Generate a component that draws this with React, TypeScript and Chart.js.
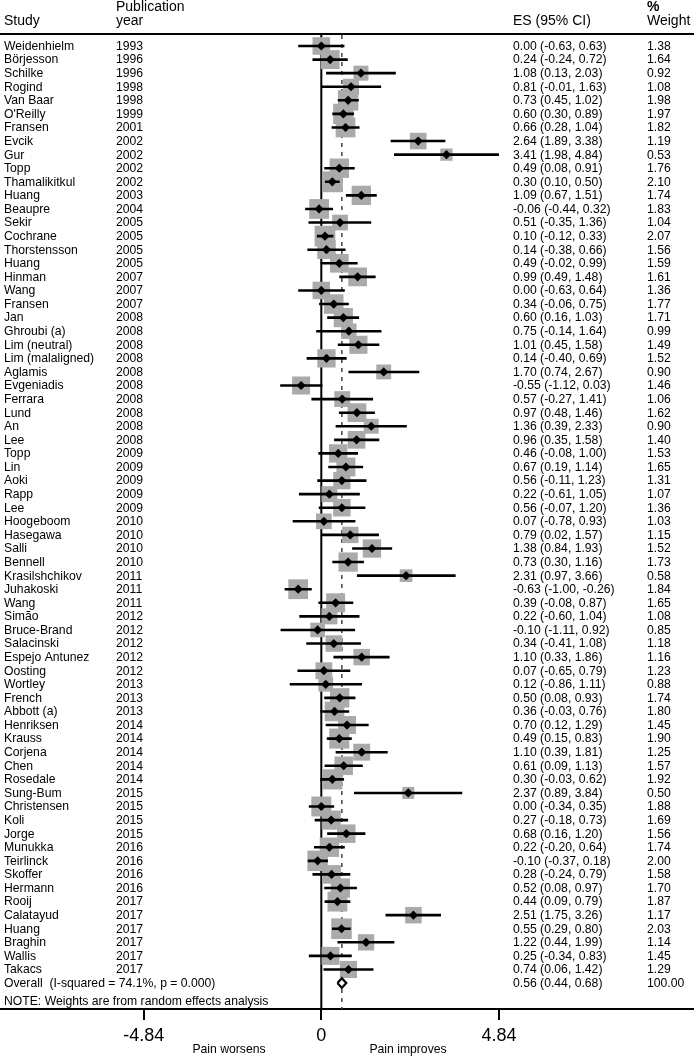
import React, { useEffect, useRef } from "react";
import { Chart, registerables } from "chart.js";

Chart.register(...registerables);

const studies = [
  "Weidenhielm", "Börjesson", "Schilke", "Rogind", "Van Baar", "O'Reilly", "Fransen", "Evcik", "Gur", "Topp",
  "Thamalikitkul", "Huang", "Beaupre", "Sekir", "Cochrane", "Thorstensson", "Huang", "Hinman", "Wang", "Fransen",
  "Jan", "Ghroubi (a)", "Lim (neutral)", "Lim (malaligned)", "Aglamis", "Evgeniadis", "Ferrara", "Lund", "An", "Lee",
  "Topp", "Lin", "Aoki", "Rapp", "Lee", "Hoogeboom", "Hasegawa", "Salli", "Bennell", "Krasilshchikov",
  "Juhakoski", "Wang", "Simão", "Bruce-Brand", "Salacinski", "Espejo Antunez", "Oosting", "Wortley", "French", "Abbott (a)",
  "Henriksen", "Krauss", "Corjena", "Chen", "Rosedale", "Sung-Bum", "Christensen", "Koli", "Jorge", "Munukka",
  "Teirlinck", "Skoffer", "Hermann", "Rooij", "Calatayud", "Huang", "Braghin", "Wallis", "Takacs",
];
const years = [
  1993, 1996, 1996, 1998, 1998, 1999, 2001, 2002, 2002, 2002,
  2002, 2003, 2004, 2005, 2005, 2005, 2005, 2007, 2007, 2007,
  2008, 2008, 2008, 2008, 2008, 2008, 2008, 2008, 2008, 2008,
  2009, 2009, 2009, 2009, 2009, 2010, 2010, 2010, 2010, 2011,
  2011, 2011, 2012, 2012, 2012, 2012, 2012, 2013, 2013, 2013,
  2014, 2014, 2014, 2014, 2014, 2015, 2015, 2015, 2015, 2016,
  2016, 2016, 2016, 2017, 2017, 2017, 2017, 2017, 2017,
];
const es = [
  0.0, 0.24, 1.08, 0.81, 0.73, 0.6, 0.66, 2.64, 3.41, 0.49,
  0.3, 1.09, -0.06, 0.51, 0.1, 0.14, 0.49, 0.99, 0.0, 0.34,
  0.6, 0.75, 1.01, 0.14, 1.7, -0.55, 0.57, 0.97, 1.36, 0.96,
  0.46, 0.67, 0.56, 0.22, 0.56, 0.07, 0.79, 1.38, 0.73, 2.31,
  -0.63, 0.39, 0.22, -0.1, 0.34, 1.1, 0.07, 0.12, 0.5, 0.36,
  0.7, 0.49, 1.1, 0.61, 0.3, 2.37, 0.0, 0.27, 0.68, 0.22,
  -0.1, 0.28, 0.52, 0.44, 2.51, 0.55, 1.22, 0.25, 0.74,
];
const ciLow = [
  -0.63, -0.24, 0.13, -0.01, 0.45, 0.3, 0.28, 1.89, 1.98, 0.08,
  0.1, 0.67, -0.44, -0.35, -0.12, -0.38, -0.02, 0.49, -0.63, -0.06,
  0.16, -0.14, 0.45, -0.4, 0.74, -1.12, -0.27, 0.48, 0.39, 0.35,
  -0.08, 0.19, -0.11, -0.61, -0.07, -0.78, 0.02, 0.84, 0.3, 0.97,
  -1.0, -0.08, -0.6, -1.11, -0.41, 0.33, -0.65, -0.86, 0.08, -0.03,
  0.12, 0.15, 0.39, 0.09, -0.03, 0.89, -0.34, -0.18, 0.16, -0.2,
  -0.37, -0.24, 0.08, 0.09, 1.75, 0.29, 0.44, -0.34, 0.06,
];
const ciHigh = [
  0.63, 0.72, 2.03, 1.63, 1.02, 0.89, 1.04, 3.38, 4.84, 0.91,
  0.5, 1.51, 0.32, 1.36, 0.33, 0.66, 0.99, 1.48, 0.64, 0.75,
  1.03, 1.64, 1.58, 0.69, 2.67, 0.03, 1.41, 1.46, 2.33, 1.58,
  1.0, 1.14, 1.23, 1.05, 1.2, 0.93, 1.57, 1.93, 1.16, 3.66,
  -0.26, 0.87, 1.04, 0.92, 1.08, 1.86, 0.79, 1.11, 0.93, 0.76,
  1.29, 0.83, 1.81, 1.13, 0.62, 3.84, 0.35, 0.73, 1.2, 0.64,
  0.18, 0.79, 0.97, 0.79, 3.26, 0.8, 1.99, 0.83, 1.42,
];
const weights = [
  1.38, 1.64, 0.92, 1.08, 1.98, 1.97, 1.82, 1.19, 0.53, 1.76,
  2.1, 1.74, 1.83, 1.04, 2.07, 1.56, 1.59, 1.61, 1.36, 1.77,
  1.71, 0.99, 1.49, 1.52, 0.9, 1.46, 1.06, 1.62, 0.9, 1.4,
  1.53, 1.65, 1.31, 1.07, 1.36, 1.03, 1.15, 1.52, 1.73, 0.58,
  1.84, 1.65, 1.08, 0.85, 1.18, 1.16, 1.23, 0.88, 1.74, 1.8,
  1.45, 1.9, 1.25, 1.57, 1.92, 0.5, 1.88, 1.69, 1.56, 1.74,
  2.0, 1.58, 1.7, 1.87, 1.17, 2.03, 1.14, 1.45, 1.29,
];
const overallLabel = "Overall  (I-squared = 74.1%, p = 0.000)";
const overallES = 0.56;
const overallLow = 0.44;
const overallHigh = 0.68;
const overallWeight = "100.00";
const noteText = "NOTE: Weights are from random effects analysis";
const tickValues = [-4.84, 0, 4.84];
const tickLabels = ["-4.84", "0", "4.84"];
const sideLabels = ["Pain worsens", "Pain improves"];

const FONT = "'Liberation Sans', Arial, Helvetica, sans-serif";

function fmt(v: number) {
  return v.toFixed(2);
}

export default function App() {
  const ref = useRef<HTMLCanvasElement | null>(null);

  useEffect(() => {
    const canvas = ref.current;
    if (!canvas) return;
    const n = studies.length;
    const overallRow = n;
    const noteRow = n + 1.4;
    const yMin = -0.81;
    const yMax = 70.91;

    const boxData = es.map((v, i) => ({ x: v, y: i }));
    const ciData: { x: number; y: number }[] = [];
    for (let i = 0; i < n; i++) {
      ciData.push({ x: ciLow[i], y: i });
      ciData.push({ x: ciHigh[i], y: i });
      ciData.push({ x: NaN, y: NaN });
    }
    const dh = 0.36;
    const overallDiamond = [
      { x: overallLow, y: overallRow },
      { x: overallES, y: overallRow - dh },
      { x: overallHigh, y: overallRow },
      { x: overallES, y: overallRow + dh },
      { x: overallLow, y: overallRow },
    ];

    const textPlugin = {
      id: "forestText",
      afterDraw(chart: any) {
        const ctx = chart.ctx;
        const ys = chart.scales.y;
        ctx.save();
        ctx.fillStyle = "#000";
        ctx.textBaseline = "middle";
        ctx.textAlign = "left";
        // header
        ctx.font = `14px ${FONT}`;
        ctx.fillText("Study", 4, 21);
        ctx.fillText("Publication", 116, 7);
        ctx.fillText("year", 116, 21);
        ctx.fillText("ES (95% CI)", 513, 21);
        ctx.fillText("Weight", 647, 21);
        ctx.font = `bold 14px ${FONT}`;
        ctx.fillText("%", 647, 7);
        // header rule
        ctx.strokeStyle = "#000";
        ctx.lineWidth = 2;
        ctx.beginPath();
        ctx.moveTo(0, 34);
        ctx.lineTo(694, 34);
        ctx.stroke();
        // rows
        ctx.font = `12.2px ${FONT}`;
        for (let i = 0; i < n; i++) {
          const y = ys.getPixelForValue(i) + 0.5;
          ctx.fillText(studies[i], 4, y);
          ctx.fillText(String(years[i]), 116, y);
          ctx.fillText(`${fmt(es[i])} (${fmt(ciLow[i])}, ${fmt(ciHigh[i])})`, 513, y);
          ctx.fillText(fmt(weights[i]), 647, y);
        }
        const yo = ys.getPixelForValue(overallRow) + 0.5;
        ctx.fillText(overallLabel, 4, yo);
        ctx.fillText(`${fmt(overallES)} (${fmt(overallLow)}, ${fmt(overallHigh)})`, 513, yo);
        ctx.fillText(overallWeight, 647, yo);
        ctx.fillText(noteText, 4, ys.getPixelForValue(noteRow));
        // side labels
        ctx.textAlign = "center";
        ctx.fillText(sideLabels[0], 229, 1050);
        ctx.fillText(sideLabels[1], 408, 1050);
        ctx.restore();
      },
    };

    const chart = new Chart(canvas, {
      type: "scatter",
      data: {
        datasets: [
          {
            label: "overall",
            data: overallDiamond,
            showLine: true,
            fill: "shape",
            backgroundColor: "#fff",
            borderColor: "#000",
            borderWidth: 2.2,
            pointRadius: 0,
          } as any,
          {
            label: "point",
            data: boxData,
            pointStyle: "rectRot",
            pointRadius: 4.6,
            backgroundColor: "#000",
            borderColor: "#000",
            borderWidth: 0,
          },
          {
            label: "ci",
            data: ciData,
            showLine: true,
            spanGaps: false,
            borderColor: "#000",
            borderWidth: 2.6,
            pointRadius: 0,
          } as any,
          {
            label: "box",
            data: boxData,
            pointStyle: "rect",
            pointRadius: (c: any) => (3.5 + 12 * Math.sqrt(weights[c.dataIndex])) / Math.SQRT2,
            backgroundColor: "#aaaaaa",
            borderWidth: 0,
          } as any,
          {
            label: "dashed",
            data: [
              { x: overallES, y: yMin },
              { x: overallES, y: yMax },
            ],
            showLine: true,
            borderColor: "#444",
            borderWidth: 1.5,
            borderDash: [4, 5],
            pointRadius: 0,
          } as any,
          {
            label: "zero",
            data: [
              { x: 0, y: yMin },
              { x: 0, y: yMax },
            ],
            showLine: true,
            borderColor: "#000",
            borderWidth: 2,
            pointRadius: 0,
          } as any,
        ],
      },
      options: {
        responsive: false,
        animation: false,
        devicePixelRatio: 1,
        layout: { autoPadding: false, padding: { top: 35, left: 0, right: 0, bottom: 0 } },
        plugins: {
          legend: { display: false },
          tooltip: { enabled: false },
        },
        scales: {
          x: {
            type: "linear",
            min: -8.755,
            max: 10.155,
            afterBuildTicks: (scale: any) => {
              scale.ticks = tickValues.map((v) => ({ value: v }));
            },
            afterFit: (scale: any) => {
              scale.height = 48;
              scale.paddingLeft = 0;
              scale.paddingRight = 0;
            },
            ticks: {
              autoSkip: false,
              maxRotation: 0,
              padding: 5,
              color: "#000",
              font: { family: FONT, size: 18 },
              callback: (v: any) => {
                const idx = tickValues.indexOf(Number(v));
                return idx >= 0 ? tickLabels[idx] : "";
              },
            },
            grid: {
              display: true,
              drawOnChartArea: false,
              drawTicks: true,
              tickLength: 11,
              color: "#000",
              lineWidth: 2,
            },
            border: { display: true, color: "#000", width: 2 },
          },
          y: {
            type: "linear",
            display: false,
            reverse: true,
            min: yMin,
            max: yMax,
          },
        },
      } as any,
      plugins: [textPlugin],
    });
    return () => chart.destroy();
  }, []);

  return (
    <div style={{ position: "absolute", left: 0, top: 0, width: 694, height: 1057, background: "#fff" }}>
      <canvas ref={ref} width={694} height={1057} style={{ display: "block" }} />
    </div>
  );
}
